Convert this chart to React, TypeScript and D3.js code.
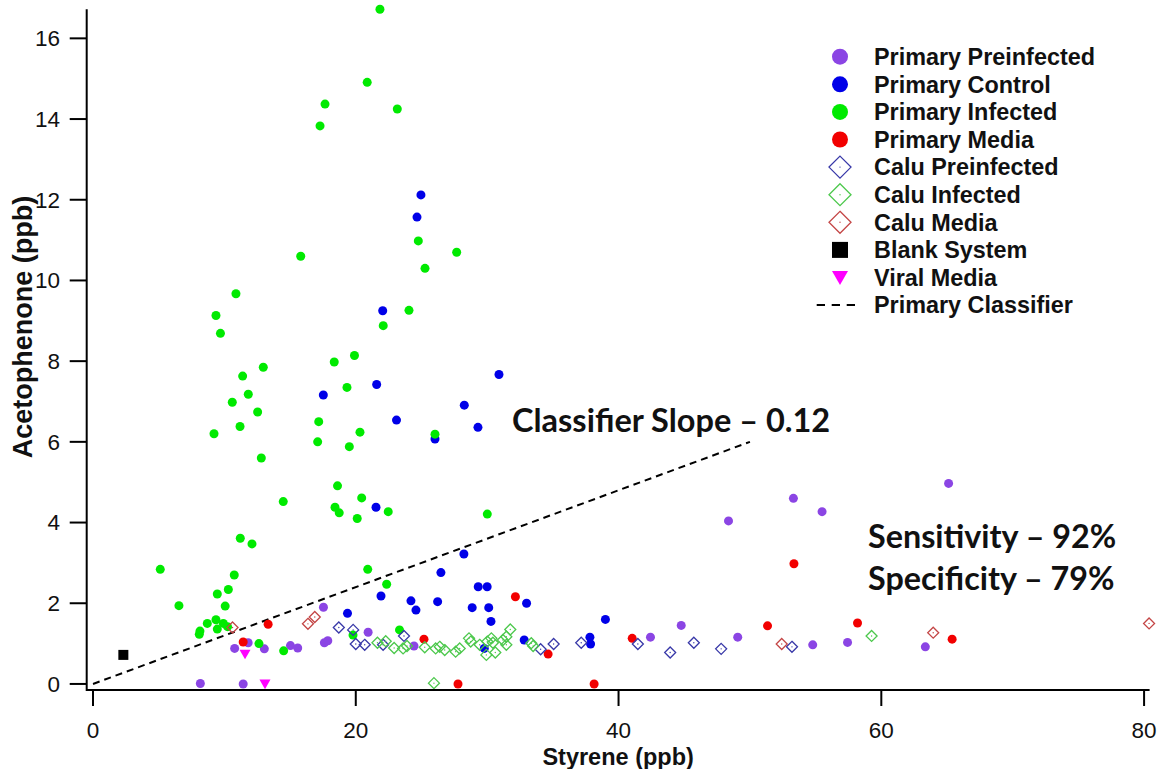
import React from "react";
import * as d3 from "d3";

// Styrene (x) vs Acetophenone (y), both in ppb
const primaryPreinfected: [number, number][] = [
  [8.17, 0.01], [11.43, 0.0], [11.81, 1.02], [10.78, 0.88], [13.04, 0.87],
  [15.03, 0.95], [15.58, 0.89], [17.54, 1.9], [17.61, 1.02], [17.87, 1.07],
  [20.94, 1.28], [24.43, 0.94], [42.43, 1.16], [44.77, 1.45], [48.37, 4.04],
  [49.07, 1.16], [53.31, 4.6], [54.78, 0.97], [55.49, 4.27], [57.43, 1.03],
  [63.35, 0.92], [65.12, 4.97],
];

const primaryControl: [number, number][] = [
  [24.96, 12.12], [24.66, 11.57], [22.05, 9.25], [30.9, 7.67], [21.59, 7.42],
  [17.53, 7.16], [28.26, 6.91], [23.1, 6.54], [29.3, 6.36], [26.03, 6.07],
  [21.54, 4.38], [28.23, 3.22], [26.48, 2.76], [29.32, 2.41], [30.0, 2.41],
  [21.92, 2.18], [33.0, 2.0], [24.2, 2.06], [24.58, 1.83], [26.23, 2.04],
  [28.86, 1.89], [30.12, 1.89], [30.29, 1.55], [19.37, 1.75], [32.82, 1.09],
  [29.78, 0.88], [37.82, 1.16], [37.87, 0.99], [39.0, 1.6],
];

const primaryInfected: [number, number][] = [
  [21.84, 16.72], [20.87, 14.91], [17.66, 14.37], [17.28, 13.83], [23.16, 14.25],
  [15.81, 10.6], [10.88, 9.67], [9.36, 9.13], [9.7, 8.69], [22.09, 8.88],
  [24.76, 10.98], [27.68, 10.7], [25.27, 10.3], [24.05, 9.26], [18.36, 7.98],
  [19.9, 8.14], [19.33, 7.35], [12.96, 7.85], [11.39, 7.63], [11.82, 7.18],
  [10.6, 6.98], [12.53, 6.74], [11.19, 6.38], [9.21, 6.2], [12.81, 5.6],
  [17.18, 6.5], [17.1, 6.0], [20.32, 6.24], [19.51, 5.88], [26.03, 6.19],
  [14.48, 4.52], [18.61, 4.91], [20.45, 4.61], [18.42, 4.38], [18.74, 4.24],
  [20.11, 4.1], [22.47, 4.27], [30.01, 4.21], [11.21, 3.61], [12.1, 3.47],
  [5.12, 2.84], [10.75, 2.7], [20.91, 2.84], [10.3, 2.34], [9.46, 2.23],
  [22.35, 2.47], [6.54, 1.94], [10.06, 1.93], [8.7, 1.5], [9.36, 1.59],
  [9.46, 1.36], [8.14, 1.31], [8.09, 1.23], [9.92, 1.5], [10.24, 1.42],
  [12.63, 1.0], [14.51, 0.82], [19.79, 1.21], [23.33, 1.34],
];

const primaryMedia: [number, number][] = [
  [13.33, 1.48], [11.43, 1.04], [25.19, 1.11], [27.78, 0.0], [32.15, 2.16],
  [34.64, 0.74], [38.14, 0.0], [41.04, 1.13], [51.34, 1.44], [53.35, 2.98],
  [58.19, 1.51], [65.39, 1.11],
];

const caluPreinfected: [number, number][] = [
  [18.71, 1.4], [19.8, 1.34], [20.0, 0.99], [20.68, 0.97], [22.08, 0.97],
  [23.67, 1.19], [34.07, 0.86], [35.06, 0.99], [37.16, 1.02], [41.47, 0.99],
  [43.93, 0.78], [45.73, 1.02], [47.81, 0.87], [53.2, 0.92],
];

const caluInfected: [number, number][] = [
  [21.65, 1.02], [22.28, 1.06], [22.92, 0.89], [23.6, 0.88], [23.9, 0.94],
  [25.25, 0.91], [26.08, 0.88], [26.39, 0.92], [26.77, 0.84], [27.6, 0.8],
  [27.91, 0.88], [28.62, 1.13], [28.75, 1.05], [29.43, 0.97], [29.94, 0.72],
  [30.01, 1.05], [30.32, 1.13], [30.44, 1.02], [30.62, 0.78], [31.2, 1.09],
  [31.46, 1.17], [31.46, 0.97], [31.76, 1.35], [33.36, 1.01], [33.5, 0.94],
  [25.95, 0.02], [59.26, 1.19],
];

const caluMedia: [number, number][] = [
  [10.62, 1.4], [16.36, 1.49], [16.88, 1.66], [52.42, 0.99], [63.95, 1.27],
  [80.38, 1.5],
];

const blankSystem: [number, number][] = [[2.31, 0.72]];

const viralMedia: [number, number][] = [[11.57, 0.74], [13.09, 0.0]];

const classifierSlope = 0.12;
const classifierXRange = [0, 50];

const xTicks = [0, 20, 40, 60, 80];
const yTicks = [0, 2, 4, 6, 8, 10, 12, 14, 16];

const legendLabels = [
  "Primary Preinfected",
  "Primary Control",
  "Primary Infected",
  "Primary Media",
  "Calu Preinfected",
  "Calu Infected",
  "Calu Media",
  "Blank System",
  "Viral Media",
  "Primary Classifier",
];

const sensitivityPct = 92;
const specificityPct = 79;

type Shape = "circle" | "diamond" | "square" | "triangle";

const COLORS = {
  preinfected: "#8b45e4",
  control: "#0000e8",
  infected: "#00ea00",
  media: "#f20000",
  caluPre: "#3838a8",
  caluInf: "#4cc84c",
  caluMedia: "#c44646",
  blank: "#000000",
  viral: "#ff00ff",
};

const W = 1161;
const H = 769;
const AXIS_FONT = "'Liberation Sans', Arial, sans-serif";
const NOTE_FONT = "Lato, 'Open Sans', sans-serif";

const x = d3.scaleLinear().domain([-0.48, 80.42]).range([86.7, 1149.6]);
const y = d3.scaleLinear().domain([-0.15, 16.72]).range([690, 9.3]);

function marker(shape: Shape, cx: number, cy: number, size: number, color: string, key: string) {
  if (shape === "circle") {
    return <circle key={key} cx={cx} cy={cy} r={size} fill={color} />;
  }
  if (shape === "diamond") {
    const p = d3.path();
    p.moveTo(cx, cy - size);
    p.lineTo(cx + size, cy);
    p.lineTo(cx, cy + size);
    p.lineTo(cx - size, cy);
    p.closePath();
    return (
      <g key={key}>
        <path d={p.toString()} fill="none" stroke={color} strokeWidth={1.3} />
        <circle cx={cx} cy={cy} r={0.7} fill={color} />
      </g>
    );
  }
  if (shape === "square") {
    return <rect key={key} x={cx - size} y={cy - size} width={size * 2} height={size * 2} fill={color} />;
  }
  const p = d3.path();
  p.moveTo(cx - size, cy - size * 0.8);
  p.lineTo(cx + size, cy - size * 0.8);
  p.lineTo(cx, cy + size * 0.95);
  p.closePath();
  return <path key={key} d={p.toString()} fill={color} />;
}

const seriesList: { name: string; data: [number, number][]; shape: Shape; color: string; size: number; legendSize: number }[] = [
  { name: legendLabels[0], data: primaryPreinfected, shape: "circle", color: COLORS.preinfected, size: 4.5, legendSize: 8 },
  { name: legendLabels[1], data: primaryControl, shape: "circle", color: COLORS.control, size: 4.5, legendSize: 8 },
  { name: legendLabels[2], data: primaryInfected, shape: "circle", color: COLORS.infected, size: 4.5, legendSize: 8 },
  { name: legendLabels[3], data: primaryMedia, shape: "circle", color: COLORS.media, size: 4.5, legendSize: 8 },
  { name: legendLabels[4], data: caluPreinfected, shape: "diamond", color: COLORS.caluPre, size: 5.5, legendSize: 11 },
  { name: legendLabels[5], data: caluInfected, shape: "diamond", color: COLORS.caluInf, size: 5.5, legendSize: 11 },
  { name: legendLabels[6], data: caluMedia, shape: "diamond", color: COLORS.caluMedia, size: 5.5, legendSize: 11 },
  { name: legendLabels[7], data: blankSystem, shape: "square", color: COLORS.blank, size: 5, legendSize: 8 },
  { name: legendLabels[8], data: viralMedia, shape: "triangle", color: COLORS.viral, size: 5.5, legendSize: 8 },
];

export default function App() {
  const x0 = x.range()[0];
  const x1 = x.range()[1];
  const yBottom = y.range()[0];
  const yTop = y.range()[1];

  const legendX = 840;
  const legendTextX = 874;
  const legendY0 = 56.7;
  const legendStep = 27.6;

  return (
    <svg
      width={W}
      height={H}
      viewBox={`0 0 ${W} ${H}`}
      style={{ position: "absolute", left: 0, top: 0, display: "block", background: "#fff" }}
    >
      <rect x={0} y={0} width={W} height={H} fill="#fff" />

      {/* classifier line */}
      <line
        x1={x(classifierXRange[0])}
        y1={y(classifierXRange[0] * classifierSlope)}
        x2={x(classifierXRange[1])}
        y2={y(classifierXRange[1] * classifierSlope)}
        stroke="#000"
        strokeWidth={2}
        strokeDasharray="7 5"
      />

      {/* data points */}
      {seriesList.map((s, si) => (
        <g key={s.name}>
          {s.data.map((d, i) => marker(s.shape, x(d[0]), y(d[1]), s.size, s.color, `${si}-${i}`))}
        </g>
      ))}

      {/* axes */}
      <line x1={x0} y1={yBottom} x2={x1} y2={yBottom} stroke="#000" strokeWidth={2} />
      <line x1={x0} y1={yTop} x2={x0} y2={yBottom + 1} stroke="#000" strokeWidth={2} />

      {xTicks.map((t) => (
        <g key={`xt${t}`}>
          <line x1={x(t)} y1={yBottom} x2={x(t)} y2={yBottom + 16} stroke="#000" strokeWidth={2} />
          <text
            x={x(t)}
            y={738}
            textAnchor="middle"
            fontFamily={AXIS_FONT}
            fontSize={22.5}
            fill="#111"
          >
            {t}
          </text>
        </g>
      ))}
      {yTicks.map((t) => (
        <g key={`yt${t}`}>
          <line x1={x0 - 17} y1={y(t)} x2={x0} y2={y(t)} stroke="#000" strokeWidth={2} />
          <text
            x={60}
            y={y(t) + 7.8}
            textAnchor="end"
            fontFamily={AXIS_FONT}
            fontSize={22.5}
            fill="#111"
          >
            {t}
          </text>
        </g>
      ))}

      {/* axis titles */}
      <text
        x={(x0 + x1) / 2}
        y={764.5}
        textAnchor="middle"
        fontFamily={AXIS_FONT}
        fontWeight="bold"
        fontSize={23.5}
        fill="#111"
      >
        Styrene (ppb)
      </text>
      <text
        transform="translate(32, 327) rotate(-90)"
        textAnchor="middle"
        fontFamily={AXIS_FONT}
        fontWeight="bold"
        fontSize={27}
        fill="#111"
      >
        Acetophenone (ppb)
      </text>

      {/* legend */}
      {legendLabels.map((label, i) => {
        const cy = legendY0 + i * legendStep;
        const s = seriesList[i];
        return (
          <g key={`lg${i}`}>
            {s ? (
              marker(s.shape, legendX, cy, s.legendSize, s.color, `lm${i}`)
            ) : (
              <line
                x1={816.7}
                y1={cy}
                x2={855}
                y2={cy}
                stroke="#000"
                strokeWidth={2}
                strokeDasharray="8.3 6.7"
              />
            )}
            <text
              x={legendTextX}
              y={cy + 8.2}
              fontFamily={AXIS_FONT}
              fontWeight="bold"
              fontSize={23.4}
              fill="#111"
            >
              {label}
            </text>
          </g>
        );
      })}

      {/* annotations */}
      <text x={512} y={432} fontFamily={NOTE_FONT} fontWeight="bold" fontSize={32.5} fill="#111">
        {`Classifier Slope \u2013 ${classifierSlope.toFixed(2)}`}
      </text>
      <text x={868} y={548} fontFamily={NOTE_FONT} fontWeight="bold" fontSize={32.3} fill="#111">
        {`Sensitivity \u2013 ${sensitivityPct}%`}
      </text>
      <text x={868} y={590} fontFamily={NOTE_FONT} fontWeight="bold" fontSize={32.3} fill="#111">
        {`Specificity \u2013 ${specificityPct}%`}
      </text>
    </svg>
  );
}
